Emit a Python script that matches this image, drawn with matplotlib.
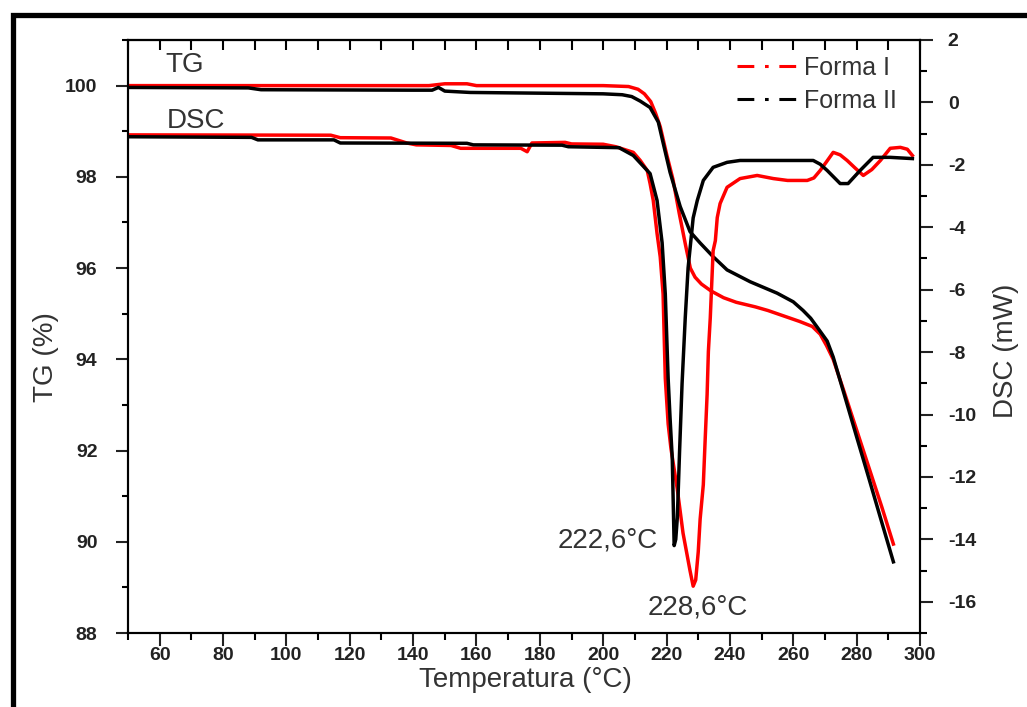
import numpy as np
import matplotlib
matplotlib.use('Agg')
import matplotlib.pyplot as plt
from matplotlib.lines import Line2D
from matplotlib.patches import Rectangle
from matplotlib.ticker import MultipleLocator

plt.rcParams['font.family'] = ['Liberation Sans', 'DejaVu Sans']
plt.rcParams['axes.unicode_minus'] = False

# TG curves (left axis, %)
t_tg1 = [50, 100, 145, 150, 157, 160, 200, 208, 211, 213, 215, 216.5, 218, 220, 222,
         224, 226, 227.5, 229, 231, 234, 238, 242, 248, 252, 257, 262, 266, 268.5,
         270.5, 272.6, 276, 280, 284, 288, 291.6]
tg1 = [100.0, 100.0, 100.0, 100.04, 100.04, 100.0, 100.0, 99.98, 99.92, 99.82, 99.65,
       99.4, 99.1, 98.5, 97.95, 97.2, 96.5, 96.0, 95.8, 95.65, 95.5, 95.35, 95.25, 95.15,
       95.07, 94.95, 94.83, 94.72, 94.55, 94.3, 94.0, 93.3, 92.45, 91.6, 90.75, 89.95]

t_tg2 = [50, 88, 92, 140, 146, 148, 150, 158, 200, 206, 209, 211.7, 214.8, 217.4, 218.9,
         221.1, 224.3, 227.4, 230.6, 234.7, 239.1, 246.4, 254.9, 260, 263.1, 265.5, 267.6,
         270.7, 272.6, 276, 280, 284, 288, 291.6]
tg2 = [99.96, 99.95, 99.91, 99.9, 99.9, 99.96, 99.88, 99.85, 99.82, 99.8, 99.76, 99.66,
       99.52, 99.2, 98.75, 98.1, 97.35, 96.8, 96.55, 96.25, 95.96, 95.7, 95.45, 95.26,
       95.07, 94.9, 94.7, 94.4, 94.05, 93.25, 92.3, 91.36, 90.41, 89.56]

# DSC curves (right axis, mW)
t_dsc1 = [50, 114, 117, 133, 138, 141, 152, 155, 174, 176, 177.5, 188, 190, 200, 204,
          209.5, 211.7, 213.9, 214.8, 215.8, 217.0, 218.0, 218.9, 219.6, 220.5, 221.4,
          223.4, 225.2, 227.4, 228.4, 229.2, 230.0, 230.6, 231.6, 232.2, 232.8, 233.2,
          233.8, 234.7, 235.4, 236.0, 236.9, 239.1, 243.2, 248.6, 253.7, 258.2, 264.4,
          266.5, 268.5, 270.5, 272.6, 274.8, 277.0, 279.5, 282.1, 284.8, 287.5, 290.6,
          293.8, 296, 297.6]
dsc1 = [-1.04, -1.05, -1.13, -1.14, -1.3, -1.36, -1.38, -1.47, -1.47, -1.58, -1.3, -1.28,
        -1.33, -1.34, -1.42, -1.6, -1.86, -2.18, -2.6, -3.14, -4.2, -4.95, -6.14, -8.84,
        -10.3, -11.1, -12.4, -13.8, -15.0, -15.5, -15.3, -14.4, -13.35, -12.25, -10.77,
        -9.36, -7.98, -6.9, -4.75, -4.43, -3.69, -3.24, -2.72, -2.44, -2.34, -2.44, -2.5,
        -2.5, -2.42, -2.18, -1.9, -1.6, -1.68, -1.86, -2.1, -2.34, -2.15, -1.86, -1.47,
        -1.44, -1.5, -1.7]

t_dsc2 = [50, 89, 91, 115, 117, 157, 159, 187, 189, 205, 209.5, 214.8, 217, 218.6, 219.6,
          220.5, 221.1, 221.8, 222.4, 222.9, 223.4, 224.1, 224.9, 225.9, 226.8, 228.4,
          229.7, 231.6, 234.7, 239.1, 243.2, 266.3, 268.5, 270.7, 274.8, 277.3, 281.1,
          285.2, 290.6, 297.6]
dsc2 = [-1.1, -1.12, -1.2, -1.2, -1.3, -1.31, -1.36, -1.37, -1.42, -1.45, -1.7, -2.28,
        -3.14, -4.5, -6.14, -8.84, -10.1, -11.4, -14.2, -14.0, -13.3, -11.2, -9.0, -6.9,
        -5.3, -3.7, -3.14, -2.5, -2.08, -1.92, -1.86, -1.86, -1.98, -2.18, -2.6, -2.6,
        -2.18, -1.76, -1.76, -1.8]

labels = ['Forma I', 'Forma II']
colors = ['#ff0000', '#000000']
txt = '#333333'

fig = plt.figure(figsize=(10.27, 7.07), dpi=100)
ax = fig.add_axes([128/1027, 1-633/707, (920-128)/1027, (633-40)/707])
ax2 = ax.twinx()

lw = 2.5
ax.plot(t_tg1, tg1, color=colors[0], lw=lw)
ax.plot(t_tg2, tg2, color=colors[1], lw=lw)
ax2.plot(t_dsc1, dsc1, color=colors[0], lw=lw)
ax2.plot(t_dsc2, dsc2, color=colors[1], lw=lw)

ax.set_xlim(50, 300)
ax.set_ylim(88, 101)
ax2.set_ylim(-17, 2)

ax.set_xticks(np.arange(60, 301, 20))
ax.xaxis.set_minor_locator(MultipleLocator(10))
ax.set_yticks(np.arange(88, 101, 2))
ax.yaxis.set_minor_locator(MultipleLocator(1))
ax2.set_yticks(np.arange(-16, 3, 2))
ax2.yaxis.set_minor_locator(MultipleLocator(1))

sw = 1.5
for a in (ax, ax2):
    for s in a.spines.values():
        s.set_linewidth(sw)

tick_font = dict(labelsize=14, width=sw, colors='#222222')
ax.tick_params(axis='x', which='major', direction='out', length=9, pad=1, **tick_font)
ax.tick_params(axis='x', which='minor', direction='out', length=5, width=sw)
ax.tick_params(axis='y', which='major', direction='out', length=9, pad=13, **tick_font)
ax.tick_params(axis='y', which='minor', direction='out', length=4.5, width=sw)
ax2.tick_params(axis='y', which='major', direction='out', length=9, pad=11, **tick_font)
ax2.tick_params(axis='y', which='minor', direction='out', length=5, width=sw)
for lab in ax.get_xticklabels() + ax.get_yticklabels() + ax2.get_yticklabels():
    lab.set_fontweight('bold')

top = ax.secondary_xaxis('top')
top.set_xticks(np.arange(60, 301, 20))
top.xaxis.set_minor_locator(MultipleLocator(10))
top.tick_params(which='both', direction='in', length=7, width=sw, labeltop=False)
top.spines['top'].set_linewidth(sw)

# text labels
ax.text(61.7, 100.45, 'TG', fontsize=20, color=txt, ha='left', va='center')
ax.text(62.3, 99.22, 'DSC', fontsize=20, color=txt, ha='left', va='center')
ax2.text(217.4, -14.05, '222,6°C', fontsize=20, color=txt, ha='right', va='center')
ax2.text(230.0, -16.17, '228,6°C', fontsize=20, color=txt, ha='center', va='center')

fig.text(525/1027, 1-680/707, 'Temperatura (°C)', fontsize=20, color=txt,
         ha='center', va='center')
fig.text(46/1027, 1-357/707, 'TG (%)', fontsize=20, color=txt, rotation=90,
         ha='center', va='center')
fig.text(1006/1027, 1-351/707, 'DSC (mW)', fontsize=20, color=txt, rotation=90,
         ha='center', va='center')

handles = [Line2D([], [], color=c, lw=2.2, linestyle=(0, (5.5, 3.5, 1.2, 3.5)))
           for c in colors]
ax2.legend(handles, labels, loc='upper left', bbox_to_anchor=(737/1027, 1-56/707),
           bbox_transform=fig.transFigure, frameon=False, fontsize=18, borderpad=0,
           borderaxespad=0, handlelength=2.4, handletextpad=0.3, labelspacing=0.35,
           labelcolor=txt)

# outer frame
fig.patches.append(Rectangle((12.5/1027, -0.1), 1.2, 1.1 - 14.5/707, fill=False,
                             lw=3.8, ec='black', transform=fig.transFigure))

fig.savefig('out.png', dpi=100)
